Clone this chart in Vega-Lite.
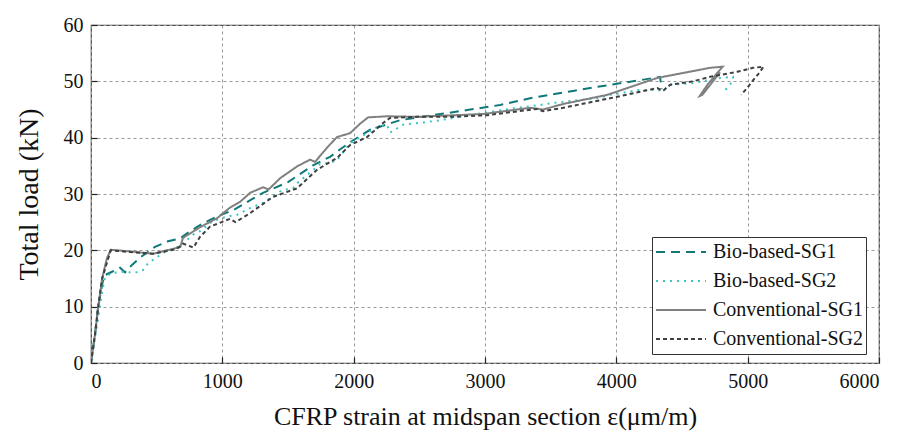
{
  "$schema": "https://vega.github.io/schema/vega-lite/v6.json",
  "autosize": {"type": "none"},
  "width": 788,
  "height": 338,
  "padding": {"left": 91, "top": 25, "right": 24, "bottom": 69},
  "background": "white",
  "config": {
    "view": {"stroke": "#444", "strokeWidth": 1.2},
    "font": "Liberation Serif",
    "axis": {
      "labelFont": "Liberation Serif",
      "titleFont": "Liberation Serif",
      "labelFontSize": 20,
      "titleFontWeight": "normal",
      "labelColor": "#111",
      "titleColor": "#111",
      "gridColor": "#999",
      "gridDash": [3, 3],
      "gridWidth": 1,
      "domain": false,
      "ticks": true,
      "tickSize": -6,
      "tickColor": "#222",
      "tickWidth": 1.2
    },
    "legend": {
      "labelFont": "Liberation Serif",
      "labelFontSize": 20,
      "labelColor": "#111",
      "fillColor": "white",
      "strokeColor": "#333",
      "padding": 3,
      "symbolType": "stroke",
      "symbolSize": 2500,
      "symbolStrokeWidth": 2,
      "clipHeight": 24,
      "rowPadding": 5,
      "labelOffset": 6,
      "labelLimit": 300
    }
  },
  "data": {
    "values": [
      {"s": "Bio-based-SG1", "i": 1, "x": 0, "y": 0},
      {"s": "Bio-based-SG1", "i": 2, "x": 30, "y": 5},
      {"s": "Bio-based-SG1", "i": 3, "x": 55, "y": 10},
      {"s": "Bio-based-SG1", "i": 4, "x": 90, "y": 14.5},
      {"s": "Bio-based-SG1", "i": 5, "x": 107, "y": 15.6},
      {"s": "Bio-based-SG1", "i": 6, "x": 160, "y": 16.2},
      {"s": "Bio-based-SG1", "i": 7, "x": 221, "y": 16.9},
      {"s": "Bio-based-SG1", "i": 8, "x": 259, "y": 16.1},
      {"s": "Bio-based-SG1", "i": 9, "x": 312, "y": 17.4},
      {"s": "Bio-based-SG1", "i": 10, "x": 373, "y": 18.7},
      {"s": "Bio-based-SG1", "i": 11, "x": 487, "y": 20.6},
      {"s": "Bio-based-SG1", "i": 12, "x": 586, "y": 21.6},
      {"s": "Bio-based-SG1", "i": 13, "x": 678, "y": 22.1},
      {"s": "Bio-based-SG1", "i": 14, "x": 731, "y": 23.0},
      {"s": "Bio-based-SG1", "i": 15, "x": 853, "y": 24.8},
      {"s": "Bio-based-SG1", "i": 16, "x": 960, "y": 26.0},
      {"s": "Bio-based-SG1", "i": 17, "x": 1097, "y": 27.3},
      {"s": "Bio-based-SG1", "i": 18, "x": 1226, "y": 29.1},
      {"s": "Bio-based-SG1", "i": 19, "x": 1310, "y": 30.2},
      {"s": "Bio-based-SG1", "i": 20, "x": 1500, "y": 32.1},
      {"s": "Bio-based-SG1", "i": 21, "x": 1691, "y": 35.1},
      {"s": "Bio-based-SG1", "i": 22, "x": 1820, "y": 36.6},
      {"s": "Bio-based-SG1", "i": 23, "x": 1973, "y": 39.2},
      {"s": "Bio-based-SG1", "i": 24, "x": 2125, "y": 41.4},
      {"s": "Bio-based-SG1", "i": 25, "x": 2353, "y": 43.1},
      {"s": "Bio-based-SG1", "i": 26, "x": 2605, "y": 44.0},
      {"s": "Bio-based-SG1", "i": 27, "x": 2864, "y": 44.9},
      {"s": "Bio-based-SG1", "i": 28, "x": 3115, "y": 45.8},
      {"s": "Bio-based-SG1", "i": 29, "x": 3343, "y": 47.0},
      {"s": "Bio-based-SG1", "i": 30, "x": 3671, "y": 48.3},
      {"s": "Bio-based-SG1", "i": 31, "x": 3930, "y": 49.3},
      {"s": "Bio-based-SG1", "i": 32, "x": 4181, "y": 50.2},
      {"s": "Bio-based-SG1", "i": 33, "x": 4333, "y": 50.8},
      {"s": "Bio-based-SG1", "i": 34, "x": 4345, "y": 48.6},

      {"s": "Bio-based-SG2", "i": 1, "x": 0, "y": 0},
      {"s": "Bio-based-SG2", "i": 2, "x": 30, "y": 4.5},
      {"s": "Bio-based-SG2", "i": 3, "x": 53, "y": 7.6},
      {"s": "Bio-based-SG2", "i": 4, "x": 80, "y": 12},
      {"s": "Bio-based-SG2", "i": 5, "x": 107, "y": 15.3},
      {"s": "Bio-based-SG2", "i": 6, "x": 160, "y": 16.0},
      {"s": "Bio-based-SG2", "i": 7, "x": 259, "y": 16.2},
      {"s": "Bio-based-SG2", "i": 8, "x": 335, "y": 16.0},
      {"s": "Bio-based-SG2", "i": 9, "x": 396, "y": 16.5},
      {"s": "Bio-based-SG2", "i": 10, "x": 434, "y": 17.7},
      {"s": "Bio-based-SG2", "i": 11, "x": 503, "y": 18.8},
      {"s": "Bio-based-SG2", "i": 12, "x": 564, "y": 19.7},
      {"s": "Bio-based-SG2", "i": 13, "x": 693, "y": 20.9},
      {"s": "Bio-based-SG2", "i": 14, "x": 769, "y": 22.7},
      {"s": "Bio-based-SG2", "i": 15, "x": 830, "y": 23.4},
      {"s": "Bio-based-SG2", "i": 16, "x": 929, "y": 25.2},
      {"s": "Bio-based-SG2", "i": 17, "x": 1036, "y": 26.0},
      {"s": "Bio-based-SG2", "i": 18, "x": 1112, "y": 26.3},
      {"s": "Bio-based-SG2", "i": 19, "x": 1211, "y": 27.5},
      {"s": "Bio-based-SG2", "i": 20, "x": 1310, "y": 28.4},
      {"s": "Bio-based-SG2", "i": 21, "x": 1455, "y": 30.7},
      {"s": "Bio-based-SG2", "i": 22, "x": 1538, "y": 31.0},
      {"s": "Bio-based-SG2", "i": 23, "x": 1569, "y": 31.9},
      {"s": "Bio-based-SG2", "i": 24, "x": 1744, "y": 35.3},
      {"s": "Bio-based-SG2", "i": 25, "x": 1820, "y": 35.5},
      {"s": "Bio-based-SG2", "i": 26, "x": 1873, "y": 36.0},
      {"s": "Bio-based-SG2", "i": 27, "x": 1973, "y": 39.0},
      {"s": "Bio-based-SG2", "i": 28, "x": 2178, "y": 41.9},
      {"s": "Bio-based-SG2", "i": 29, "x": 2254, "y": 42.3},
      {"s": "Bio-based-SG2", "i": 30, "x": 2277, "y": 40.9},
      {"s": "Bio-based-SG2", "i": 31, "x": 2376, "y": 42.3},
      {"s": "Bio-based-SG2", "i": 32, "x": 2635, "y": 43.0},
      {"s": "Bio-based-SG2", "i": 33, "x": 2886, "y": 44.0},
      {"s": "Bio-based-SG2", "i": 34, "x": 3214, "y": 45.2},
      {"s": "Bio-based-SG2", "i": 35, "x": 3420, "y": 45.8},
      {"s": "Bio-based-SG2", "i": 36, "x": 3496, "y": 46.1},
      {"s": "Bio-based-SG2", "i": 37, "x": 3853, "y": 47.0},
      {"s": "Bio-based-SG2", "i": 38, "x": 3953, "y": 47.6},
      {"s": "Bio-based-SG2", "i": 39, "x": 4181, "y": 48.5},
      {"s": "Bio-based-SG2", "i": 40, "x": 4356, "y": 48.4},
      {"s": "Bio-based-SG2", "i": 41, "x": 4410, "y": 49.4},
      {"s": "Bio-based-SG2", "i": 42, "x": 4584, "y": 49.7},
      {"s": "Bio-based-SG2", "i": 43, "x": 4790, "y": 50.6},
      {"s": "Bio-based-SG2", "i": 44, "x": 4889, "y": 50.8},
      {"s": "Bio-based-SG2", "i": 45, "x": 4889, "y": 50.1},
      {"s": "Bio-based-SG2", "i": 46, "x": 4828, "y": 48.4},

      {"s": "Conventional-SG1", "i": 1, "x": 0, "y": 0},
      {"s": "Conventional-SG1", "i": 2, "x": 30, "y": 5},
      {"s": "Conventional-SG1", "i": 3, "x": 55, "y": 10},
      {"s": "Conventional-SG1", "i": 4, "x": 85, "y": 15},
      {"s": "Conventional-SG1", "i": 5, "x": 120, "y": 18.5},
      {"s": "Conventional-SG1", "i": 6, "x": 150, "y": 20.1},
      {"s": "Conventional-SG1", "i": 7, "x": 300, "y": 19.8},
      {"s": "Conventional-SG1", "i": 8, "x": 472, "y": 19.4},
      {"s": "Conventional-SG1", "i": 9, "x": 560, "y": 19.9},
      {"s": "Conventional-SG1", "i": 10, "x": 680, "y": 20.6},
      {"s": "Conventional-SG1", "i": 11, "x": 700, "y": 22.2},
      {"s": "Conventional-SG1", "i": 12, "x": 830, "y": 24.1},
      {"s": "Conventional-SG1", "i": 13, "x": 960, "y": 25.7},
      {"s": "Conventional-SG1", "i": 14, "x": 1059, "y": 27.6},
      {"s": "Conventional-SG1", "i": 15, "x": 1135, "y": 28.6},
      {"s": "Conventional-SG1", "i": 16, "x": 1211, "y": 30.2},
      {"s": "Conventional-SG1", "i": 17, "x": 1310, "y": 31.2},
      {"s": "Conventional-SG1", "i": 18, "x": 1352, "y": 30.8},
      {"s": "Conventional-SG1", "i": 19, "x": 1440, "y": 32.8},
      {"s": "Conventional-SG1", "i": 20, "x": 1569, "y": 34.9},
      {"s": "Conventional-SG1", "i": 21, "x": 1668, "y": 36.1},
      {"s": "Conventional-SG1", "i": 22, "x": 1706, "y": 35.7},
      {"s": "Conventional-SG1", "i": 23, "x": 1800, "y": 38.3},
      {"s": "Conventional-SG1", "i": 24, "x": 1873, "y": 40.1},
      {"s": "Conventional-SG1", "i": 25, "x": 1973, "y": 40.8},
      {"s": "Conventional-SG1", "i": 26, "x": 2050, "y": 42.5},
      {"s": "Conventional-SG1", "i": 27, "x": 2110, "y": 43.6},
      {"s": "Conventional-SG1", "i": 28, "x": 2254, "y": 43.8},
      {"s": "Conventional-SG1", "i": 29, "x": 2483, "y": 43.7},
      {"s": "Conventional-SG1", "i": 30, "x": 2985, "y": 44.2},
      {"s": "Conventional-SG1", "i": 31, "x": 3343, "y": 45.3},
      {"s": "Conventional-SG1", "i": 32, "x": 3442, "y": 45.0},
      {"s": "Conventional-SG1", "i": 33, "x": 3600, "y": 46.0},
      {"s": "Conventional-SG1", "i": 34, "x": 3930, "y": 47.6},
      {"s": "Conventional-SG1", "i": 35, "x": 4311, "y": 50.6},
      {"s": "Conventional-SG1", "i": 36, "x": 4714, "y": 52.4},
      {"s": "Conventional-SG1", "i": 37, "x": 4810, "y": 52.6},
      {"s": "Conventional-SG1", "i": 38, "x": 4700, "y": 49.6},
      {"s": "Conventional-SG1", "i": 39, "x": 4635, "y": 47.4},
      {"s": "Conventional-SG1", "i": 40, "x": 4655, "y": 47.6},
      {"s": "Conventional-SG1", "i": 41, "x": 4790, "y": 51.6},

      {"s": "Conventional-SG2", "i": 1, "x": 0, "y": 0},
      {"s": "Conventional-SG2", "i": 2, "x": 30, "y": 5},
      {"s": "Conventional-SG2", "i": 3, "x": 55, "y": 10},
      {"s": "Conventional-SG2", "i": 4, "x": 85, "y": 15},
      {"s": "Conventional-SG2", "i": 5, "x": 150, "y": 20.0},
      {"s": "Conventional-SG2", "i": 6, "x": 300, "y": 19.7},
      {"s": "Conventional-SG2", "i": 7, "x": 472, "y": 19.4},
      {"s": "Conventional-SG2", "i": 8, "x": 650, "y": 20.2},
      {"s": "Conventional-SG2", "i": 9, "x": 700, "y": 21.2},
      {"s": "Conventional-SG2", "i": 10, "x": 780, "y": 20.5},
      {"s": "Conventional-SG2", "i": 11, "x": 830, "y": 22.4},
      {"s": "Conventional-SG2", "i": 12, "x": 906, "y": 24.2},
      {"s": "Conventional-SG2", "i": 13, "x": 1059, "y": 25.6},
      {"s": "Conventional-SG2", "i": 14, "x": 1100, "y": 25.0},
      {"s": "Conventional-SG2", "i": 15, "x": 1211, "y": 26.6},
      {"s": "Conventional-SG2", "i": 16, "x": 1386, "y": 29.5},
      {"s": "Conventional-SG2", "i": 17, "x": 1569, "y": 31.0},
      {"s": "Conventional-SG2", "i": 18, "x": 1721, "y": 34.3},
      {"s": "Conventional-SG2", "i": 19, "x": 1873, "y": 36.4},
      {"s": "Conventional-SG2", "i": 20, "x": 1973, "y": 38.7},
      {"s": "Conventional-SG2", "i": 21, "x": 2102, "y": 40.1},
      {"s": "Conventional-SG2", "i": 22, "x": 2224, "y": 42.6},
      {"s": "Conventional-SG2", "i": 23, "x": 2277, "y": 43.5},
      {"s": "Conventional-SG2", "i": 24, "x": 2483, "y": 43.7},
      {"s": "Conventional-SG2", "i": 25, "x": 2757, "y": 43.7},
      {"s": "Conventional-SG2", "i": 26, "x": 3016, "y": 44.0},
      {"s": "Conventional-SG2", "i": 27, "x": 3397, "y": 45.1},
      {"s": "Conventional-SG2", "i": 28, "x": 3442, "y": 44.7},
      {"s": "Conventional-SG2", "i": 29, "x": 3595, "y": 45.3},
      {"s": "Conventional-SG2", "i": 30, "x": 3953, "y": 47.0},
      {"s": "Conventional-SG2", "i": 31, "x": 4311, "y": 48.8},
      {"s": "Conventional-SG2", "i": 32, "x": 4356, "y": 48.3},
      {"s": "Conventional-SG2", "i": 33, "x": 4410, "y": 49.4},
      {"s": "Conventional-SG2", "i": 34, "x": 4584, "y": 50.0},
      {"s": "Conventional-SG2", "i": 35, "x": 4714, "y": 50.8},
      {"s": "Conventional-SG2", "i": 36, "x": 4920, "y": 51.7},
      {"s": "Conventional-SG2", "i": 37, "x": 5042, "y": 52.4},
      {"s": "Conventional-SG2", "i": 38, "x": 5120, "y": 52.6},
      {"s": "Conventional-SG2", "i": 39, "x": 5095, "y": 51.7},
      {"s": "Conventional-SG2", "i": 40, "x": 5042, "y": 50.2},
      {"s": "Conventional-SG2", "i": 41, "x": 4996, "y": 48.8},
      {"s": "Conventional-SG2", "i": 42, "x": 4950, "y": 47.6}
    ]
  },
  "mark": {"type": "line", "strokeWidth": 2, "clip": true},
  "encoding": {
    "x": {
      "field": "x", "type": "quantitative",
      "scale": {"domain": [0, 6000], "nice": false},
      "axis": {"values": [0, 1000, 2000, 3000, 4000, 5000, 6000], "format": "d", "labelPadding": 14, "titlePadding": 12,
               "labelFont": "Liberation Serif", "titleFont": "Liberation Serif", "titleFontSize": 26,
               "title": "CFRP strain at midspan section ε(μm/m)"}
    },
    "y": {
      "field": "y", "type": "quantitative",
      "scale": {"domain": [0, 60], "nice": false},
      "axis": {"values": [0, 10, 20, 30, 40, 50, 60], "labelPadding": 14, "titlePadding": 20,
               "labelFont": "Liberation Serif", "titleFont": "Liberation Serif", "titleFontSize": 28,
               "title": "Total load (kN)"}
    },
    "order": {"field": "i", "type": "quantitative"},
    "color": {
      "field": "s", "type": "nominal",
      "scale": {
        "domain": ["Bio-based-SG1", "Bio-based-SG2", "Conventional-SG1", "Conventional-SG2"],
        "range": ["#107878", "#3cc4c4", "#808080", "#404040"]
      },
      "legend": {"title": null, "orient": "none", "legendX": 561, "legendY": 212, "labelFont": "Liberation Serif"}
    },
    "strokeDash": {
      "field": "s", "type": "nominal",
      "scale": {
        "domain": ["Bio-based-SG1", "Bio-based-SG2", "Conventional-SG1", "Conventional-SG2"],
        "range": [[9, 6], [2, 5], [1, 0], [4, 3]]
      },
      "legend": {"title": null, "orient": "none", "legendX": 561, "legendY": 212, "labelFont": "Liberation Serif"}
    }
  }
}
